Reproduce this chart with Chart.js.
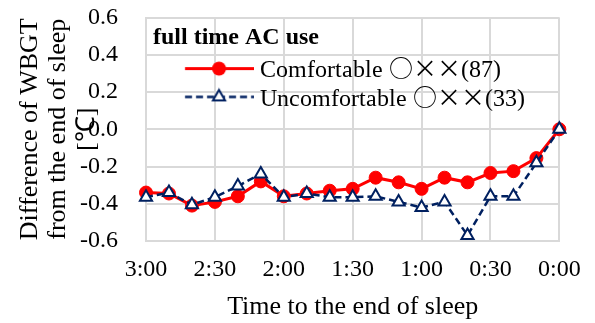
<!DOCTYPE html>
<html>
<head>
<meta charset="utf-8">
<script src="https://cdn.jsdelivr.net/npm/chart.js@4.4.1/dist/chart.umd.min.js"></script>
<style>
  @font-face {
    font-family: 'LegendMix';
    src: local('Noto Sans CJK JP'), local('Noto Sans CJK JP Regular'), local('NotoSansCJKjp-Regular'), local('Noto Sans CJK SC Regular'), local('NotoSansCJKsc-Regular');
    unicode-range: U+00D7, U+25CB;
  }
  @font-face {
    font-family: 'LegendMix';
    src: local('Liberation Serif'), local('LiberationSerif'), local('Liberation Serif Regular');
    unicode-range: U+0000-00D6, U+00D8-25CA, U+25CC-FFFF;
  }
  html, body { margin: 0; padding: 0; background: #ffffff; }
  #wrap { width: 595px; height: 323px; position: relative; }
</style>
</head>
<body>
<div id="wrap"><canvas id="c" width="595" height="323"></canvas></div>
<script>
// ---- data ----
const categories = ['3:00','2:50','2:40','2:30','2:20','2:10','2:00','1:50','1:40','1:30','1:20','1:10','1:00','0:50','0:40','0:30','0:20','0:10','0:00'];
const comfortable = [-0.34,-0.345,-0.41,-0.39,-0.36,-0.28,-0.36,-0.345,-0.33,-0.32,-0.26,-0.285,-0.32,-0.26,-0.285,-0.235,-0.225,-0.155,0.0];
const uncomfortable = [-0.365,-0.34,-0.405,-0.365,-0.305,-0.24,-0.365,-0.345,-0.365,-0.365,-0.36,-0.39,-0.42,-0.39,-0.57,-0.36,-0.36,-0.18,0.0];
const seriesNames = ['Comfortable ○××(87)', 'Uncomfortable ○××(33)'];
const legendTitle = 'full time AC use';
const xTitle = 'Time to the end of sleep';
const yTitle = ['Difference of WBGT', 'from the end of sleep', '[℃]'];
const yTickLabels = ['-0.6','-0.4','-0.2','0.0','0.2','0.4','0.6'];
const xLabelEvery = 3;

// ---- style ----
const FONT = "'Liberation Serif', 'Times New Roman', serif";
const LEGEND_FONT = "'LegendMix', 'Liberation Serif', serif";
const RED = '#ff0000';
const NAVY = '#002060';
const GRID = '#d9d9d9';

function makeSample(kind) {
  const W = 103, H = 24;
  const cv = document.createElement('canvas');
  cv.width = W; cv.height = H;
  const g = cv.getContext('2d');
  const y = 9.5, x0 = 33.85, x1 = 103, mx = 67.85;
  if (kind === 0) {
    g.strokeStyle = RED; g.lineWidth = 3;
    g.beginPath(); g.moveTo(x0, y); g.lineTo(x1, y); g.stroke();
    g.fillStyle = RED; g.beginPath(); g.arc(mx, y, 7, 0, Math.PI * 2); g.fill();
  } else {
    g.strokeStyle = NAVY; g.lineWidth = 2.5; g.setLineDash([7, 4]);
    g.beginPath(); g.moveTo(x0, y); g.lineTo(x1, y); g.stroke();
    g.setLineDash([]);
    const r = 7;
    g.beginPath();
    for (let k = 0; k < 3; k++) {
      const a = k * 2 * Math.PI / 3;
      const px = mx + Math.sin(a) * r, py = y - Math.cos(a) * r;
      if (k === 0) g.moveTo(px, py); else g.lineTo(px, py);
    }
    g.closePath();
    g.fillStyle = '#ffffff'; g.fill();
    g.lineWidth = 2; g.strokeStyle = NAVY; g.stroke();
  }
  return cv;
}

const legendPlacer = {
  id: 'legendPlacer',
  afterLayout(chart) {
    const lg = chart.legend;
    if (!lg) return;
    lg.left = 153; lg.right = 153 + 400;
    lg.top = 17.5; lg.bottom = 17.5 + 220;
  }
};

function draw() {
  const legendImgs = [makeSample(0), makeSample(1)];
  new Chart(document.getElementById('c'), {
    type: 'line',
    data: {
      labels: categories,
      datasets: [
        {
          label: seriesNames[0],
          data: comfortable,
          order: 2,
          borderColor: RED,
          backgroundColor: RED,
          borderWidth: 3,
          pointStyle: 'circle',
          pointRadius: 6.5,
          pointBackgroundColor: RED,
          pointBorderColor: RED,
          pointBorderWidth: 1,
          tension: 0,
          clip: false
        },
        {
          label: seriesNames[1],
          data: uncomfortable,
          order: 1,
          borderColor: NAVY,
          backgroundColor: '#ffffff',
          borderWidth: 2.5,
          borderDash: [7, 4],
          pointStyle: 'triangle',
          pointRadius: 7,
          pointBackgroundColor: '#ffffff',
          pointBorderColor: NAVY,
          pointBorderWidth: 2,
          tension: 0,
          clip: false
        }
      ]
    },
    options: {
      responsive: false,
      devicePixelRatio: 1,
      animation: false,
      layout: { padding: { left: 0, right: 32, top: 17.5, bottom: 0 } },
      plugins: {
        tooltip: { enabled: false },
        legend: {
          display: true,
          position: 'chartArea',
          fullSize: false,
          align: 'start',
          title: {
            display: true,
            text: legendTitle,
            position: 'start',
            color: '#000000',
            font: { family: FONT, size: 24, weight: 'bold', lineHeight: 1.2 },
            padding: { top: 8.5, bottom: 0 }
          },
          labels: {
            color: '#000000',
            font: { family: LEGEND_FONT, size: 24 },
            usePointStyle: true,
            pointStyleWidth: 90.7,
            padding: 4.3,
            sort: (a, b) => a.datasetIndex - b.datasetIndex,
            generateLabels(chart) {
              const items = Chart.defaults.plugins.legend.labels.generateLabels(chart);
              items.forEach(it => { it.pointStyle = legendImgs[it.datasetIndex]; });
              return items;
            }
          }
        }
      },
      scales: {
        x: {
          type: 'category',
          offset: false,
          afterFit(scale) { scale.height = 82; },
          grid: {
            drawTicks: false,
            lineWidth: 2,
            color: (ctx) => (ctx.index % xLabelEvery === 0 ? GRID : 'rgba(0,0,0,0)')
          },
          border: { display: true, color: GRID, width: 2 },
          ticks: {
            autoSkip: false,
            maxRotation: 0,
            minRotation: 0,
            padding: 14.3,
            color: '#000000',
            font: { family: FONT, size: 24, lineHeight: 1.2 },
            callback: (v, i) => (i % xLabelEvery === 0 ? categories[i] : '')
          },
          title: {
            display: true,
            text: xTitle,
            color: '#000000',
            font: { family: FONT, size: 26, lineHeight: 30 / 26 },
            padding: { top: 0, bottom: 0.8 }
          }
        },
        y: {
          type: 'linear',
          min: -0.6,
          max: 0.6,
          afterFit(scale) {
            scale.width = 146;
            scale.paddingTop = 0;
            scale.paddingBottom = 0;
          },
          grid: { drawTicks: false, lineWidth: 2, color: GRID },
          border: { display: true, color: GRID, width: 2 },
          ticks: {
            stepSize: 0.1,
            padding: 28,
            color: '#000000',
            font: { family: FONT, size: 24, lineHeight: 1.2 },
            callback: (v) => {
              const s = (Math.round(v * 10) / 10).toFixed(1);
              return yTickLabels.includes(s) ? s : '';
            }
          },
          title: {
            display: true,
            text: yTitle,
            color: '#000000',
            font: { family: FONT, size: 26, lineHeight: 28.5 / 26 },
            padding: { top: 15.75, bottom: 0 }
          }
        }
      }
    },
    plugins: [legendPlacer]
  });
}

let drawn = false;
function drawOnce() { if (!drawn) { drawn = true; draw(); } }
if (document.fonts && document.fonts.load) {
  Promise.all([
    document.fonts.load("24px 'LegendMix'", '○×'),
    document.fonts.load("24px 'LegendMix'", 'Comfortable')
  ]).then(drawOnce, drawOnce);
  setTimeout(drawOnce, 1500);
} else {
  drawOnce();
}
</script>
</body>
</html>
